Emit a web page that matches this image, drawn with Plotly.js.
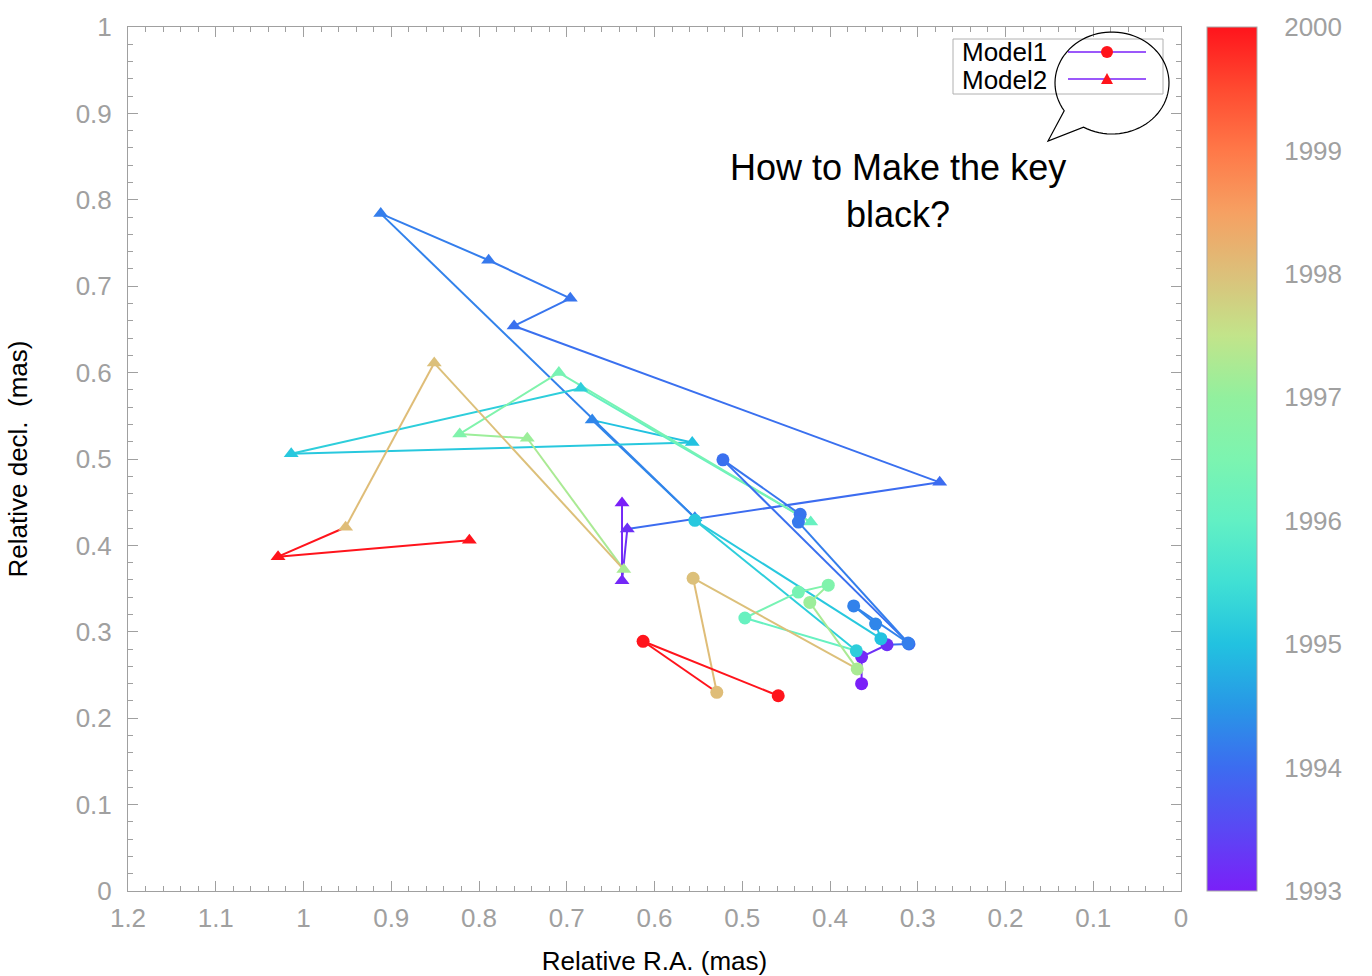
<!DOCTYPE html>
<html>
<head>
<meta charset="utf-8">
<script src="https://cdn.plot.ly/plotly-3.0.1.min.js"></script>
<style>
html,body{margin:0;padding:0;background:#fff;}
#chart{width:1372px;height:976px;}
</style>
</head>
<body>
<div id="chart"></div>
<script>
// Observation epochs (year) shared by both models
const epochs = [1993.0, 1993.1, 1993.2, 1994.0, 1994.05, 1994.1, 1994.15, 1994.2, 1994.25, 1994.3,
                1995.0, 1995.1, 1995.2, 1996.1, 1996.4, 1996.6, 1997.1, 1997.25, 1998.0, 1998.05, 2000.0, 2000.0];

// Model1 (circles)
const model1RA   = [0.364, 0.364, 0.335, 0.310, 0.522, 0.434, 0.436, 0.311, 0.373, 0.348, 0.342,
                    0.554, 0.370, 0.497, 0.436, 0.402, 0.423, 0.369, 0.556, 0.529, 0.613, 0.459];
const model1Decl = [0.240, 0.271, 0.285, 0.286, 0.499, 0.436, 0.427, 0.287, 0.330, 0.309, 0.292,
                    0.429, 0.278, 0.316, 0.346, 0.354, 0.334, 0.257, 0.362, 0.230, 0.289, 0.226];

// Model2 (triangles)
const model2RA   = [0.637, 0.637, 0.631, 0.275, 0.760, 0.696, 0.789, 0.912, 0.554, 0.671, 0.557,
                    1.014, 0.684, 0.422, 0.709, 0.822, 0.745, 0.635, 0.851, 0.952, 1.029, 0.811];
const model2Decl = [0.449, 0.359, 0.419, 0.473, 0.654, 0.686, 0.730, 0.784, 0.432, 0.545, 0.519,
                    0.506, 0.582, 0.427, 0.600, 0.529, 0.524, 0.372, 0.611, 0.421, 0.387, 0.406];

const seriesNames = ['Model1', 'Model2'];
const colorbarTicks = [1993, 1994, 1995, 1996, 1997, 1998, 1999, 2000];
const cMin = 1993, cMax = 2000;

const colorscale = [
  [0.0000, '#7a20f8'], [0.0714, '#5a48f4'], [0.1429, '#3c6cf0'], [0.2143, '#2898e6'],
  [0.2857, '#22c2e0'], [0.3571, '#40e0d4'], [0.4286, '#62f0c4'], [0.5000, '#7cf4b0'],
  [0.5714, '#92f09e'], [0.6429, '#c2e48a'], [0.7143, '#dcc07a'], [0.7857, '#f6a062'],
  [0.8571, '#ff7848'], [0.9286, '#ff4a30'], [1.0000, '#ff141c']
];

function hexToRgb(h){ h=h.replace('#',''); return [parseInt(h.substr(0,2),16),parseInt(h.substr(2,2),16),parseInt(h.substr(4,2),16)]; }
function colorAt(v){
  let f = (v - cMin) / (cMax - cMin); f = Math.max(0, Math.min(1, f));
  for (let i = 0; i < colorscale.length - 1; i++) {
    const a = colorscale[i], b = colorscale[i+1];
    if (f >= a[0] && f <= b[0]) {
      const u = (f - a[0]) / (b[0] - a[0]);
      const ca = hexToRgb(a[1]), cb = hexToRgb(b[1]);
      const c = ca.map((q, k) => Math.round(q + (cb[k] - q) * u));
      return 'rgb(' + c.join(',') + ')';
    }
  }
  return colorscale[colorscale.length-1][1];
}

const traces = [];
function addSegments(xs, ys){
  for (let i = 0; i < xs.length - 1; i++) {
    traces.push({type:'scatter', mode:'lines', x:[xs[i], xs[i+1]], y:[ys[i], ys[i+1]],
      line:{color:colorAt(epochs[i+1]), width:2}, hoverinfo:'skip', showlegend:false});
  }
}
addSegments(model2RA, model2Decl);
addSegments(model1RA, model1Decl);
traces.push({type:'scatter', mode:'markers', name:seriesNames[1], x:model2RA, y:model2Decl,
  marker:{symbol:'triangle-up', size:13, color:epochs, coloraxis:'coloraxis'}, showlegend:false});
traces.push({type:'scatter', mode:'markers', name:seriesNames[0], x:model1RA, y:model1Decl,
  marker:{symbol:'circle', size:13, color:epochs, coloraxis:'coloraxis'}, showlegend:false});

// pixel -> paper helpers (plot area 128..1181 x 27..891)
const L = 128, R = 1181, T = 27, B = 891;
const PX = p => (p - L) / (R - L);
const PY = p => (B - p) / (B - T);

const shapes = [];
// legend box
shapes.push({type:'rect', xref:'paper', yref:'paper', x0:PX(953), x1:PX(1163), y0:PY(94), y1:PY(39),
  line:{color:'#b0b0b0', width:1}, fillcolor:'rgba(0,0,0,0)'});
// legend lines
[52, 79].forEach(py => shapes.push({type:'line', xref:'paper', yref:'paper', x0:PX(1068), x1:PX(1146), y0:PY(py), y1:PY(py),
  line:{color:colorAt(cMin), width:1.5}}));
// legend circle marker
shapes.push({type:'circle', xref:'paper', yref:'paper', x0:PX(1101), x1:PX(1113), y0:PY(58), y1:PY(46),
  line:{color:'#ff141c', width:0}, fillcolor:'#ff141c'});
// legend triangle marker
shapes.push({type:'path', xref:'paper', yref:'paper',
  path:'M'+PX(1101)+','+PY(84)+' L'+PX(1113)+','+PY(84)+' L'+PX(1107)+','+PY(73)+' Z',
  line:{color:'#ff141c', width:0}, fillcolor:'#ff141c'});
// speech bubble
(function(){
  const cx = 1112, cy = 83, rx = 57, ry = 51;
  const a0 = 147 * Math.PI/180, a1 = (120 + 360) * Math.PI/180;
  let d = '';
  const n = 80;
  for (let i = 0; i <= n; i++) {
    const a = a0 + (a1 - a0) * i / n;
    const px = cx + rx * Math.cos(a), py = cy + ry * Math.sin(a);
    d += (i === 0 ? 'M' : ' L') + PX(px) + ',' + PY(py);
  }
  d += ' L' + PX(1048) + ',' + PY(141) + ' Z';
  shapes.push({type:'path', xref:'paper', yref:'paper', path:d, line:{color:'#000', width:1.2}, fillcolor:'rgba(0,0,0,0)'});
})();
// colorbar inside ticks on both sides
colorbarTicks.slice(1, -1).forEach(v => {
  const yp = (v - cMin) / (cMax - cMin);
  shapes.push({type:'line', xref:'paper', yref:'paper', x0:PX(1207), x1:PX(1220), y0:yp, y1:yp,
    line:{color:'#aaaaaa', width:1}});
  shapes.push({type:'line', xref:'paper', yref:'paper', x0:PX(1244), x1:PX(1257), y0:yp, y1:yp,
    line:{color:'#aaaaaa', width:1}});
});

const FONT = 'Liberation Sans, Arial, Helvetica, sans-serif';
const annotations = [
  {xref:'paper', yref:'paper', x:PX(961), y:PY(52), xanchor:'left', yanchor:'middle', showarrow:false,
   text:seriesNames[0], font:{family:FONT, size:26, color:'#000'}, borderpad:0},
  {xref:'paper', yref:'paper', x:PX(961), y:PY(80), xanchor:'left', yanchor:'middle', showarrow:false,
   text:seriesNames[1], font:{family:FONT, size:26, color:'#000'}, borderpad:0},
  {xref:'paper', yref:'paper', x:PX(898), y:PY(191), xanchor:'center', yanchor:'middle', showarrow:false,
   text:'How to Make the key<br>black?', font:{family:FONT, size:36, color:'#000'}, align:'center'}
];

const axisCommon = {
  ticks:'inside', ticklen:10, tickwidth:1, tickcolor:'#a0a0a0',
  showline:true, linecolor:'#a0a0a0', linewidth:1, mirror:'allticks',
  showgrid:false, zeroline:false,
  tickfont:{family:FONT, size:26, color:'#a0a0a0'},
  minor:{dtick:0.02, ticks:'inside', ticklen:5, tickcolor:'#a0a0a0', showgrid:false}
};

const layout = {
  width:1372, height:976,
  margin:{l:L, r:1372-R, t:T, b:976-B, pad:0},
  paper_bgcolor:'#fff', plot_bgcolor:'#fff',
  showlegend:false,
  font:{family:FONT},
  xaxis:Object.assign({}, axisCommon, {range:[1.2, 0], autorange:false, dtick:0.1, tick0:0,
    ticklabelstandoff:4,
    title:{text:'Relative R.A. (mas)', font:{family:FONT, size:26, color:'#000'}}}),
  yaxis:Object.assign({}, axisCommon, {range:[0, 1], autorange:false, dtick:0.1, tick0:0,
    ticklabelstandoff:10,
    title:{text:'Relative decl.\u00a0 (mas)', standoff:40, font:{family:FONT, size:26, color:'#000'}}}),
  coloraxis:{cmin:cMin, cmax:cMax, colorscale:colorscale,
    colorbar:{x:PX(1207), xanchor:'left', xpad:0, y:0.5, yanchor:'middle', ypad:0,
      len:1, lenmode:'fraction', thickness:50, thicknessmode:'pixels',
      outlinecolor:'#aaaaaa', outlinewidth:1,
      ticks:'outside', ticklen:22, tickcolor:'rgba(0,0,0,0)',
      tickmode:'array', tickvals:colorbarTicks, ticktext:colorbarTicks.map(String),
      tickfont:{family:FONT, size:26, color:'#a0a0a0'}}},
  shapes:shapes,
  annotations:annotations
};

Plotly.newPlot('chart', traces, layout, {displayModeBar:false, staticPlot:true});
</script>
</body>
</html>
